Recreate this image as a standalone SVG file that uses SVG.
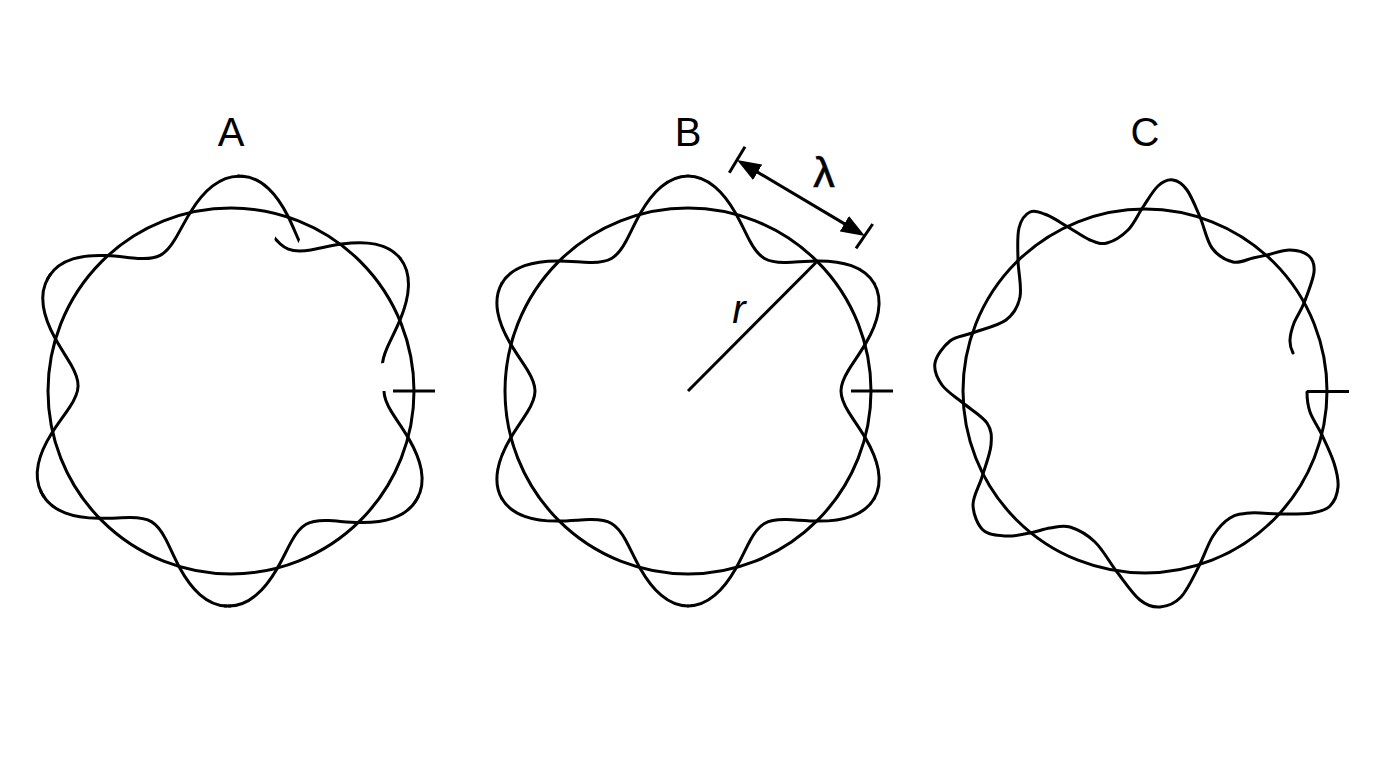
<svg xmlns="http://www.w3.org/2000/svg" width="1376" height="768" viewBox="0 0 1376 768">
<style>
.ln{fill:none;stroke:#000;stroke-width:3;stroke-linecap:round;stroke-linejoin:round}
.tk{fill:none;stroke:#000;stroke-width:3}
.lbl{font-family:"Liberation Sans",Arial,sans-serif;font-size:40px;fill:#000;text-anchor:middle}
.sym{font-family:"Liberation Sans",Arial,sans-serif;fill:#000}
</style>
<defs>
<path id="period" d="M186.2,-107.5 C190.89,-99.38 192.1,-89.3 190.24,-78.8 C188.38,-68.3 183.49,-57.48 177.73,-47.62 C171.97,-37.77 165.46,-28.92 160.69,-21.16 C155.92,-13.4 153,-6.68 153,0 C153,6.68 155.92,13.4 160.69,21.16 C165.46,28.92 171.97,37.77 177.73,47.62 C183.49,57.48 188.38,68.3 190.24,78.8 C192.1,89.3 190.89,99.38 186.2,107.5"/>
<path id="joint" d="M187.13,105.87 A215,215 0 0 1 184.1,111.05"/>
<clipPath id="wA1" clipPathUnits="userSpaceOnUse"><polygon points="0,0 300,0 150,259.8 -150,259.8 -300,0 -150,-259.8 124.4,-273"/></clipPath>
<clipPath id="wA2" clipPathUnits="userSpaceOnUse"><polygon points="0,0 82.7,-288.4 295.1,-54.2"/></clipPath>
<marker id="ah" markerUnits="userSpaceOnUse" markerWidth="24" markerHeight="18" viewBox="0 0 24 18" refX="14" refY="9" orient="auto-start-reverse"><path d="M0,0 L24,9 L0,18 z" fill="#000"/></marker>
</defs>
<rect width="1376" height="768" fill="#fff"/>

<g id="nodeA">
<text class="lbl" x="231" y="146">A</text>
<circle class="ln" cx="231" cy="391" r="183"/>
<g transform="translate(231,391)" fill="none" stroke="#000" stroke-width="3" stroke-linecap="round">
<g clip-path="url(#wA1)">
<use href="#period"/>
<use href="#period" transform="rotate(60.6)"/>
<use href="#period" transform="rotate(121.2)"/>
<use href="#period" transform="rotate(181.8)"/>
<use href="#period" transform="rotate(242.4)"/>
<use href="#period" transform="rotate(303)"/>
<use href="#joint"/>
<use href="#joint" transform="rotate(60.6)"/>
<use href="#joint" transform="rotate(121.2)"/>
<use href="#joint" transform="rotate(181.8)"/>
<use href="#joint" transform="rotate(242.4)"/>
</g>
<g clip-path="url(#wA2)">
<use href="#period" transform="rotate(292)"/>
<use href="#period" transform="rotate(352)"/>
</g>
</g>
<line class="tk" x1="393" y1="391" x2="435" y2="391"/>
</g>

<g id="nodeB">
<text class="lbl" x="688" y="146">B</text>
<circle class="ln" cx="688" cy="391" r="183"/>
<g transform="translate(688,391)" fill="none" stroke="#000" stroke-width="3" stroke-linecap="round">
<use href="#period"/>
<use href="#period" transform="rotate(60)"/>
<use href="#period" transform="rotate(120)"/>
<use href="#period" transform="rotate(180)"/>
<use href="#period" transform="rotate(240)"/>
<use href="#period" transform="rotate(300)"/>
</g>
<line class="tk" x1="851" y1="391" x2="893" y2="391"/>
<line class="tk" x1="688" y1="391" x2="816" y2="262.5"/>
<text class="sym" x="739" y="323" font-size="40" font-style="italic" text-anchor="middle">r</text>
</g>

<g id="nodeC">
<text class="lbl" x="1145" y="146">C</text>
<circle class="ln" cx="1145" cy="391" r="182"/>
<path class="ln" d="M1307,392 C1307,399 1307.5,404.8 1310,412 S1318,426.5 1322,435 S1331.3,454.3 1334,463 S1338.7,479.8 1338,487 S1334.3,501.7 1330,506 S1320,511.7 1312,513 S1292.3,514 1282,514 S1258.7,512.3 1250,513 S1236.2,514.2 1230,518 S1218.2,528 1213,536 S1204.3,555.8 1199,566 S1187.5,590.2 1181,597 S1166.8,606.5 1160,607 S1147.2,605.8 1140,600 S1124.5,581.7 1117,572 S1102.8,549.5 1095,542 S1077.5,529.3 1070,527 S1056.7,527 1050,528 S1037.3,531.7 1030,533 S1013.8,536.5 1006,536 S988.5,535.2 983,530 S973.2,513.8 973,505 S979,487 982,477 S990.2,454 991,445 S991.7,430 987,423 S970.5,409.3 963,403 S946.7,391.7 942,385 S933.7,370.3 935,363 S943.8,346 950,341 S962.7,336.5 972,333 S998,326 1006,320 S1018,307 1020,297 S1018.2,271.5 1018,260 S1017,236 1019,228 S1025.3,214.2 1030,212 S1040.7,212.5 1047,215 S1060.8,222.8 1068,227 S1083.5,237.3 1090,240 S1100.7,244.7 1107,243 S1122,236 1128,230 S1138,214.3 1143,207 S1153,190.5 1158,186 S1168.2,179.3 1173,180 S1182.5,183.8 1187,190 S1195.8,207.3 1200,217 S1206.5,240.5 1212,248 S1226.2,260.3 1233,262 S1247.3,259.2 1253,258 S1260.8,256.3 1267,255 S1283,249.8 1290,250 S1305,252.3 1309,256 S1314.8,264.2 1314,272 S1307.3,294.5 1304,303 S1296.3,316.8 1294,323 S1290.2,335 1290,340 S1290.5,348 1293,353"/>
<line class="tk" x1="1307" y1="391.5" x2="1349" y2="391.5"/>
</g>

<g id="connectors">
<line class="tk" x1="729.3" y1="172.7" x2="745" y2="146.7"/>
<line class="tk" x1="856" y1="248.3" x2="872.7" y2="224"/>
<line class="tk" x1="745.6" y1="165.1" x2="856.4" y2="230.9" marker-start="url(#ah)" marker-end="url(#ah)"/>
<text class="sym" x="824" y="187" font-size="43" text-anchor="middle" stroke="#000" stroke-width="0.6">λ</text>
</g>
</svg>
